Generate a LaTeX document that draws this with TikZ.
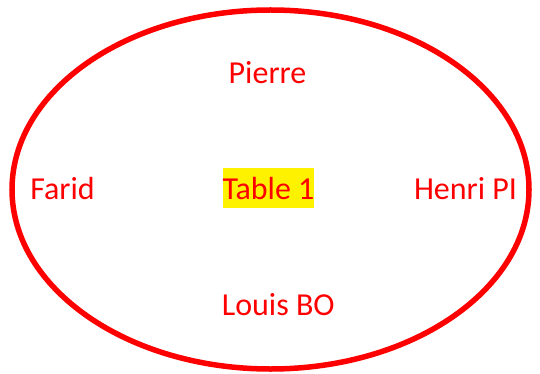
\documentclass[tikz,border=0pt]{standalone}
\usepackage{fontspec}
\setmainfont{Carlito}
\usetikzlibrary{shapes.geometric}

\begin{document}
\begin{tikzpicture}[x=1pt, y=-1pt, guest/.style={text=red, anchor=base, font=\fontsize{32}{38}\selectfont}]
\useasboundingbox (0,0) rectangle (540,374);
\node  (table)[draw=red, line width=5.5pt, ellipse, inner sep=0pt, minimum width=517pt, minimum height=359pt] at (270.5,189.5) {};
\node  (name)[guest, fill=yellow, inner sep=0pt, text height=31pt, text depth=9pt] at (268.5,199) {Table 1};
\node  (1)[guest] at (267.5,83.3) {Pierre};
\node  (2)[guest] at (62.5,199.3) {Farid};
\node  (3)[guest] at (465.5,199.3) {Henri PI};
\node  (4)[guest] at (278.3,315) {Louis BO};
\end{tikzpicture}
\end{document}
